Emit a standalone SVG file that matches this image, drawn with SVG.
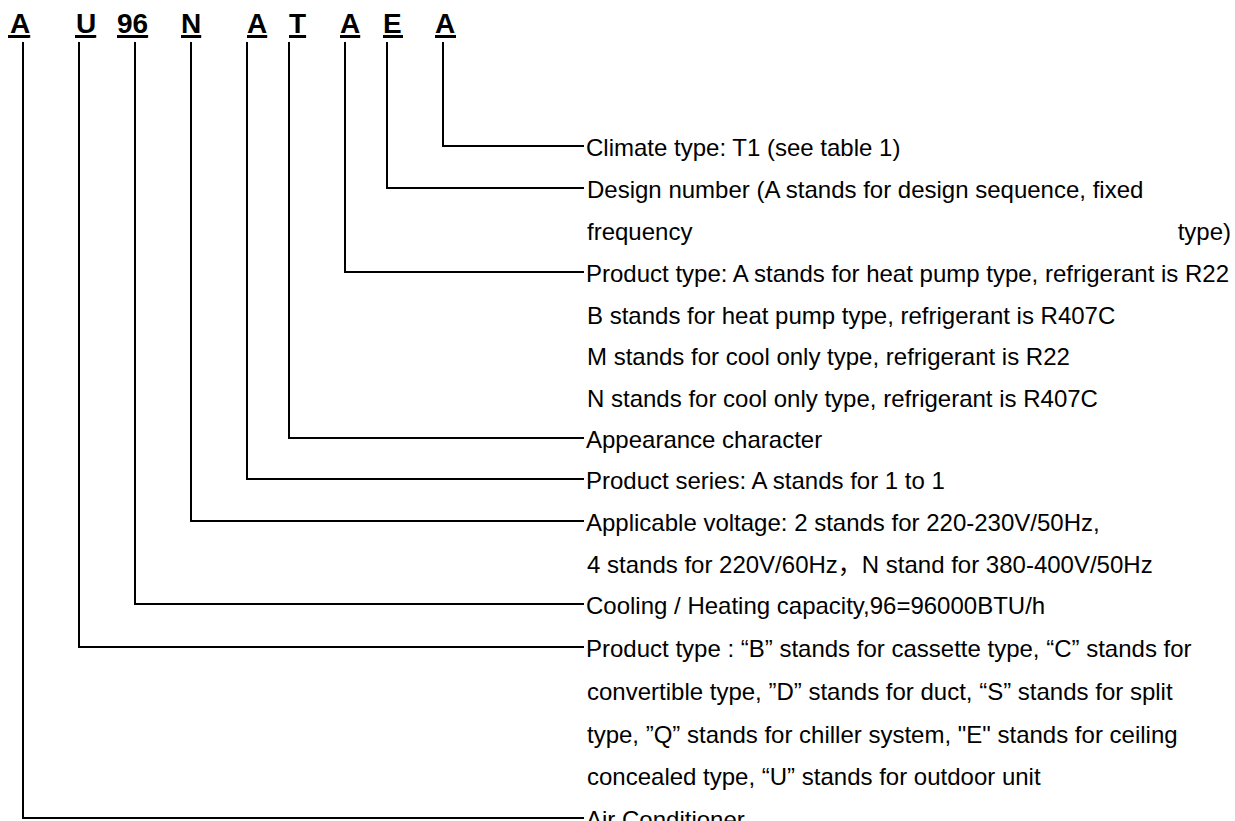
<svg xmlns="http://www.w3.org/2000/svg" width="1235" height="821" viewBox="0 0 1235 821">
<style>
.code{font-family:"Liberation Sans",Arial,sans-serif;font-weight:bold;font-size:28px;fill:#000;text-decoration:underline}
.t{font-family:"Liberation Sans",Arial,"Noto Sans CJK SC",sans-serif;font-size:24px;fill:#000}
.c{fill:none;stroke:#000;stroke-width:2}
.u{stroke:#000;stroke-width:3}
</style>
<rect width="1235" height="821" fill="#fff"/>
<g id="code">
<text class="code" x="10" y="33">A</text><line class="u" x1="8" y1="36.5" x2="29" y2="36.5"/>
<text class="code" x="76" y="33">U</text><line class="u" x1="75" y1="36.5" x2="95" y2="36.5"/>
<text class="code" x="117" y="33">96</text><line class="u" x1="117" y1="36.5" x2="147" y2="36.5"/>
<text class="code" x="181" y="33">N</text><line class="u" x1="181" y1="36.5" x2="201" y2="36.5"/>
<text class="code" x="247" y="33">A</text><line class="u" x1="247" y1="36.5" x2="267" y2="36.5"/>
<text class="code" x="289" y="33">T</text><line class="u" x1="289" y1="36.5" x2="306" y2="36.5"/>
<text class="code" x="340" y="33">A</text><line class="u" x1="340" y1="36.5" x2="360" y2="36.5"/>
<text class="code" x="383" y="33">E</text><line class="u" x1="383" y1="36.5" x2="403" y2="36.5"/>
<text class="code" x="435" y="33">A</text><line class="u" x1="435" y1="36.5" x2="456" y2="36.5"/>
</g>
<g id="connectors">
<polyline class="c" points="443,42 443,146 584,146"/>
<polyline class="c" points="387,42 387,188 584,188"/>
<polyline class="c" points="345,42 345,272 584,272"/>
<polyline class="c" points="289,42 289,438 584,438"/>
<polyline class="c" points="247,42 247,479 584,479"/>
<polyline class="c" points="191,42 191,521 584,521"/>
<polyline class="c" points="135,42 135,604 584,604"/>
<polyline class="c" points="79,42 79,647 584,647"/>
<polyline class="c" points="23,42 23,818 584,818"/>
</g>
<g id="climate"><text class="t" x="586" y="156">Climate type: T1 (see table 1)</text></g>
<g id="design">
<text class="t" x="587" y="198">Design number (A stands for design sequence, fixed</text>
<text class="t" x="587" y="240">frequency</text>
<text class="t" x="1231" y="240" text-anchor="end">type)</text>
</g>
<g id="product-type">
<text class="t" x="586" y="282">Product type: A stands for heat pump type, refrigerant is R22</text>
<text class="t" x="587" y="324">B stands for heat pump type, refrigerant is R407C</text>
<text class="t" x="587" y="365">M stands for cool only type, refrigerant is R22</text>
<text class="t" x="587" y="407">N stands for cool only type, refrigerant is R407C</text>
</g>
<g id="appearance"><text class="t" x="586" y="448">Appearance character</text></g>
<g id="series"><text class="t" x="586" y="489">Product series: A stands for 1 to 1</text></g>
<g id="voltage">
<text class="t" x="586" y="531">Applicable voltage: 2 stands for 220-230V/50Hz,</text>
<text class="t" x="587" y="573">4 stands for 220V/60Hz，N stand for 380-400V/50Hz</text>
</g>
<g id="capacity"><text class="t" x="586" y="614">Cooling / Heating capacity,96=96000BTU/h</text></g>
<g id="unit-type">
<text class="t" x="586" y="657">Product type : “B” stands for cassette type, “C” stands for</text>
<text class="t" x="587" y="700">convertible type, ”D” stands for duct, “S” stands for split</text>
<text class="t" x="587" y="743">type, ”Q” stands for chiller system, "E" stands for ceiling</text>
<text class="t" x="587" y="785">concealed type, “U” stands for outdoor unit</text>
</g>
<g id="air-conditioner"><text class="t" x="586" y="828">Air Conditioner</text></g>
</svg>
